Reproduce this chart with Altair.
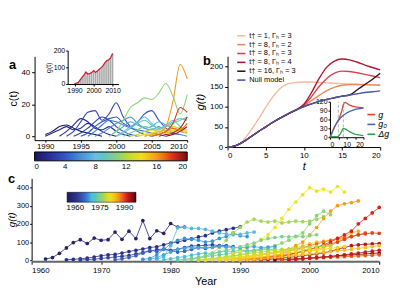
import altair as alt
import pandas as pd

W, H = 390, 284
FONT = "Liberation Sans"

# ---------------- Panel a : c(t) curves ----------------
a_idx = [0, 1, 2, 3, 3, 4, 5, 6, 7, 8, 11, 9, 10, 12, 13, 14, 16, 15, 18, 19, 20, 17]
a_start = [1990, 1990, 1992, 1993, 1994, 1995, 1996, 1997, 1999, 2000, 1999, 2000,
           2001, 2002, 2003, 2003, 2004, 2004, 2005, 2006, 2007, 2005]
a_vals = [
    [1, 3, 6, 7, 5, 3, 2, 1, 0],
    [0, 2, 4, 6, 4, 5, 8, 6, 3, 1, 0],
    [0, 3, 7, 11, 9, 5, 4, 6, 3, 1, 0],
    [0, 3, 9, 15, 16, 10, 14, 21, 12, 6, 3, 1, 0],
    [0, 2, 5, 9, 12, 10, 6, 3, 1, 0],
    [0, 2, 6, 9, 11, 12, 8, 6, 9, 14, 16, 10, 5, 2, 1],
    [0, 3, 7, 10, 9, 7, 5, 4, 3, 2, 1, 0],
    [0, 2, 5, 8, 10, 12, 8, 5, 4, 6, 3, 2, 1, 0],
    [0, 3, 6, 9, 7, 5, 6, 9, 7, 5, 3, 2],
    [0, 3, 6, 9, 12, 8, 5, 7, 10, 6, 4],
    [0, 3, 10, 18, 21, 24, 23, 27, 33, 25, 14, 26],
    [0, 2, 5, 8, 10, 7, 5, 6, 9, 11, 10],
    [0, 2, 4, 6, 5, 4, 6, 8, 10, 12],
    [0, 1, 3, 4, 3, 4, 6, 5, 4],
    [0, 1, 2, 3, 2, 3, 4, 3],
    [0, 1, 2, 3, 4, 3, 5, 4],
    [0, 1, 2, 6, 22, 45, 36],
    [0, 1, 3, 2, 4, 3, 2],
    [0, 1, 3, 8, 18, 15],
    [0, 1, 2, 5, 12],
    [0, 1, 3, 6],
    [0, 1, 3, 5, 4, 8],
]
a_ticks = [0, 4, 8, 12, 16, 20]
a_cstops = [0, 2, 4, 6, 8, 10, 12, 14, 16, 18, 20]
a_colors = ["#1c1660", "#28309a", "#3456c4", "#4a8ed8", "#68bfe2", "#7cc8a0",
            "#b8d83c", "#f2dc1e", "#f49a1e", "#e0321e", "#7a0c10"]

inset_a_years = list(range(1990, 2011))
inset_a_g = [2, 5, 10, 25, 40, 55, 72, 60, 62, 68, 80, 70, 78, 88, 98, 110, 128, 140, 145, 158, 182]

# ---------------- Panel b : model curves ----------------
b_t = list(range(21))
b_null = [0, 3, 12, 25, 38, 50, 62, 73, 83, 92, 100, 107, 113, 118, 122, 126, 129, 132, 135, 137, 139]
b_t1 = [0, 3, 15, 40, 68, 98, 126, 147, 157, 160, 161, 161, 160, 159, 158, 157, 156, 155, 154, 154, 153]
b_g2 = b_null[:10] + [102, 115, 128, 140, 148, 153, 155, 155, 155, 154, 153]
b_g3 = b_null[:10] + [104, 125, 150, 170, 183, 188, 187, 184, 180, 176, 172]
b_g4 = b_null[:10] + [106, 135, 170, 198, 213, 218, 216, 210, 203, 197, 191]
b_t16 = b_null[:17] + [142, 155, 168, 183]
b_labels = ["t† = 1, Γₕ = 3", "t† = 8, Γₕ = 2", "t† = 8, Γₕ = 3",
            "t† = 8, Γₕ = 4", "t† = 16, Γₕ = 3", "Null model"]
b_colors = ["#f6b99e", "#ee8660", "#d8434f", "#b0162e", "#3a1012", "#4a56a6"]

inset_b_g = [0, 12, 26, 38, 48, 57, 72, 88, 110, 118, 115, 111, 108, 106, 104, 103, 102, 101, 101, 100, 100]
inset_b_g0 = [0, 12, 26, 38, 48, 56, 63, 69, 74, 78, 82, 85, 88, 90, 92, 94, 95, 96, 97, 98, 99]
inset_b_dg = [2, 2, 2, 2, 2, 3, 10, 20, 30, 28, 25, 21, 18, 15, 12, 10, 9, 8, 7, 6, 5]
inset_b_marks = [5, 8]
inset_b_labels = ["g", "g₀", "Δg"]
inset_b_colors = ["#e0452e", "#4a62b0", "#2fa24a"]

# ---------------- Panel c : g(t) per cohort ----------------
c_cohort = [1957, 1960, 1962, 1965, 1968, 1970, 1971, 1973, 1977, 1976,
            1981, 1983, 1986, 1985, 1988, 1991, 1990, 1993, 1996, 1979,
            1978, 1980, 1982, 1984, 1989, 1969, 1975, 1992]
c_start = [1962, 1965, 1967, 1972, 1976, 1978, 1979, 1981, 1983, 1985,
           1986, 1987, 1988, 1989, 1990, 1991, 1992, 1993, 1995, 1984,
           1984, 1985, 1988, 1990, 1996, 1977, 1982, 1997]
c_vals = [
    [7, 15, 38, 68, 97, 113, 92, 122, 110, 113, 155, 115, 160, 119, 218, 119, 162, 148, 202, 182, 182],
    [3, 5, 8, 12, 18, 25, 30, 32, 40, 48, 55, 62, 70, 74, 85, 95, 100, 110, 118, 128, 135, 150, 160, 168, 176, 184],
    [2, 4, 6, 10, 14, 18, 22, 26, 35, 42, 50, 58, 62, 55, 60, 70, 78, 80, 82, 85, 80, 78],
    [3, 8, 15, 25, 40, 55, 48, 60, 52, 45, 50, 60, 70, 65, 72, 78, 80, 75],
    [5, 10, 30, 60, 90, 110, 120, 115, 110, 100, 105, 120, 130, 150, 135, 130],
    [5, 20, 80, 178, 180, 175, 175, 170, 160, 150, 145, 140, 142, 150, 155],
    [3, 8, 15, 20, 28, 35, 40, 38, 45, 50, 48, 55, 52, 50, 55],
    [2, 5, 10, 15, 20, 25, 30, 35, 40, 45, 50, 55, 60, 58, 62],
    [5, 10, 20, 40, 70, 110, 150, 180, 210, 225, 215, 210, 215, 205, 210, 215, 212, 215, 225, 240],
    [3, 6, 10, 15, 22, 30, 40, 50, 60, 70, 80, 95, 110, 130, 150, 200, 245, 270, 250],
    [5, 10, 20, 35, 50, 70, 90, 115, 140, 180, 230, 280, 320, 360, 398, 380, 391, 375, 405, 375],
    [2, 5, 8, 12, 18, 25, 30, 38, 45, 55, 60, 70, 80, 90, 100, 105, 110, 115, 120],
    [3, 6, 10, 15, 20, 28, 35, 42, 50, 60, 80, 100, 140, 180, 230, 270, 300, 310, 317, 326],
    [2, 4, 8, 12, 16, 20, 25, 30, 35, 40, 45, 50, 60, 70, 80, 100, 130, 150, 160],
    [2, 5, 10, 15, 20, 25, 35, 50, 60, 70, 80, 90, 100, 110, 120, 125, 130, 140, 150],
    [3, 6, 10, 15, 20, 25, 30, 40, 50, 60, 70, 85, 100, 120, 140, 160, 200, 230, 260, 290],
    [2, 5, 10, 15, 20, 30, 40, 50, 60, 70, 80, 90, 100, 115, 130, 140, 145, 150, 148],
    [2, 4, 8, 12, 16, 20, 25, 30, 35, 40, 50, 60, 70, 80, 85, 88, 90, 92],
    [2, 4, 6, 8, 10, 12, 15, 18, 20, 25, 28, 30, 32, 35, 38, 40],
    [2, 4, 6, 8, 10, 15, 20, 25, 30, 35, 40, 45, 50, 55, 60, 58, 62],
    [2, 5, 10, 15, 20, 25, 30, 35, 40, 45, 50, 55, 60, 62, 65, 70, 72, 75, 78, 80],
    [2, 4, 6, 10, 14, 18, 22, 26, 30, 35, 40, 45, 50, 55, 58, 60, 62],
    [2, 4, 8, 12, 16, 20, 25, 30, 35, 40, 45, 48, 52, 55, 60, 65, 70, 75],
    [2, 4, 6, 8, 12, 16, 20, 24, 28, 32, 36, 40, 44, 48, 52, 56, 60, 65, 70, 75, 80],
    [2, 4, 6, 8, 10, 12, 14, 16, 18, 20, 22, 24, 26, 28, 30],
    [5, 15, 30, 45, 60, 65, 70, 68, 72, 70, 75, 72, 70, 68, 72, 75, 70, 72, 75],
    [3, 8, 15, 25, 35, 45, 55, 65, 75, 85, 95, 110, 120, 125, 130, 128, 132, 130, 135, 140],
    [2, 5, 8, 12, 15, 18, 22, 25, 30, 35, 40, 45, 50, 55],
]
c_ticks = [1960, 1975, 1990]
c_cstops = [1955, 1961, 1966, 1970, 1974, 1978, 1981, 1985, 1988, 1991, 1994, 1997]
c_colors = ["#1e1a5e", "#2a3590", "#3a6cc8", "#5ab8e0", "#7ccc9c", "#b8d83a",
            "#f2e21c", "#f5b21e", "#ef6f1e", "#d92020", "#a01018", "#4a0808"]

# ---------------- build tables ----------------
rows = []
for k, (idx, st, vals) in enumerate(zip(a_idx, a_start, a_vals)):
    for j, v in enumerate(vals):
        rows.append({"curve": k, "idx": idx, "year": st + j, "c": v})
df_a = pd.DataFrame(rows)
df_ai = pd.DataFrame({"year": inset_a_years, "g": inset_a_g})

rows = []
for lab, ser in zip(b_labels, [b_t1, b_g2, b_g3, b_g4, b_t16, b_null]):
    for t, v in zip(b_t, ser):
        rows.append({"model": lab, "t": t, "g": v})
df_b = pd.DataFrame(rows)
rows = []
for lab, ser in zip(inset_b_labels, [inset_b_g, inset_b_g0, inset_b_dg]):
    for t, v in zip(b_t, ser):
        rows.append({"series": lab, "t": t, "g": v})
df_bi = pd.DataFrame(rows)
df_bm = pd.DataFrame({"t": inset_b_marks, "lo": [0, 0], "hi": [120, 120]})

rows = []
for k, (co, st, vals) in enumerate(zip(c_cohort, c_start, c_vals)):
    for j, v in enumerate(vals):
        rows.append({"series": k, "cohort": co, "year": st + j, "g": v})
df_c = pd.DataFrame(rows)


def ax(orient, offset, values=None, title=None, size=8, fmt=None, **kw):
    d = dict(orient=orient, offset=offset, grid=False, labelFontSize=size, tickSize=3,
             domainColor="black", tickColor="black", labelColor="black",
             labelFont=FONT, titleFont=FONT, titleFontWeight="normal", titleColor="black")
    if values is not None:
        d["values"] = values
    if fmt:
        d["format"] = fmt
    d["title"] = title
    d.update(kw)
    return alt.Axis(**d)


# ---------------- Panel a ----------------
xa = alt.X("year:Q", scale=alt.Scale(domain=[1988.5, 2010], range=[27, 182], nice=False, zero=False),
           axis=ax("bottom", -(H - 132), [1990, 1995, 2000, 2005, 2010], None, fmt="d",
                   tickSize=2, labelPadding=0))
ya = alt.Y("c:Q", scale=alt.Scale(domain=[-2.5, 50], range=[132, 47], nice=False, zero=False),
           axis=ax("left", -27, [0, 20, 40], "c(t)", titleFontSize=11, titlePadding=2))
panel_a = alt.Chart(df_a).mark_line(interpolate="monotone", strokeWidth=1.1).encode(
    x=xa, y=ya,
    color=alt.Color("idx:Q", scale=alt.Scale(domain=a_cstops, range=a_colors),
                    legend=alt.Legend(orient="none", legendX=27, legendY=144, direction="horizontal",
                                      type="gradient",
                                      gradientLength=155, gradientThickness=9, title=None,
                                      values=a_ticks, labelFontSize=8, labelFont=FONT,
                                      gradientStrokeColor="black", gradientStrokeWidth=1, padding=0)),
    detail="curve:N",
)

xai = alt.X("year:Q", scale=alt.Scale(domain=[1989, 2010.5], range=[60.6, 112.2], nice=False, zero=False),
            axis=ax("bottom", -(H - 75), [1990, 2000, 2010], None, size=7, fmt="d", tickSize=2, labelPadding=1))
yai = alt.Y("g:Q", scale=alt.Scale(domain=[0, 200], range=[75, 41], nice=False, zero=False),
            axis=ax("left", -60.6, [0, 100, 200], "g(t)", size=7, tickSize=2, titleFontSize=7,
                    titlePadding=2, labelPadding=1))
inset_a = alt.layer(
    alt.Chart(df_ai).mark_bar(color="#a8a8a8", size=1.5).encode(x=xai, y=yai),
    alt.Chart(df_ai).mark_line(color="#d0203a", strokeWidth=1.3).encode(x=xai, y=yai),
)

# ---------------- Panel b ----------------
xb = alt.X("t:Q", scale=alt.Scale(domain=[0, 20], range=[223, 378], nice=False, zero=False),
           axis=ax("bottom", -(H - 139), [0, 5, 10, 15, 20], "t", titleFontSize=11,
                   titleFontStyle="italic", titlePadding=1))
yb = alt.Y("g:Q", scale=alt.Scale(domain=[0, 225], range=[139, 46.75], nice=False, zero=False),
           axis=ax("left", -223, [0, 50, 100, 150, 200], "g(t)", titleFontSize=11,
                   titleFontStyle="italic", titlePadding=4))
panel_b = alt.Chart(df_b).mark_line(interpolate="monotone", strokeWidth=1.4).encode(
    x=xb, y=yb,
    color=alt.Color("model:N", sort=b_labels, scale=alt.Scale(domain=b_labels, range=b_colors),
                    legend=alt.Legend(orient="none", legendX=232, legendY=21, title=None,
                                      symbolType="stroke", symbolSize=70, symbolStrokeWidth=1.6,
                                      labelFontSize=7.5, labelFont=FONT, rowPadding=0, padding=0,
                                      labelOffset=3)),
)

xbi = alt.X("t:Q", scale=alt.Scale(domain=[0, 20], range=[327, 361], nice=False, zero=False),
            axis=ax("bottom", -(H - 129), [0, 5, 10, 15, 20], None, size=7, tickSize=2, labelPadding=1))
ybi_scale = alt.Scale(domain=[0, 120], range=[129, 93], nice=False, zero=False)
ybi_axis = ax("left", -327, [0, 30, 60, 90, 120], None, size=7, tickSize=2, labelPadding=1)
inset_b = alt.layer(
    alt.Chart(df_bm).mark_rule(color="#b0b0b0", strokeDash=[3, 2], strokeWidth=1).encode(
        x=xbi, y=alt.Y("lo:Q", scale=ybi_scale, axis=ybi_axis), y2="hi:Q"),
    alt.Chart(df_bi).mark_line(interpolate="monotone", strokeWidth=1.3).encode(
        x=xbi, y=alt.Y("g:Q", scale=ybi_scale, axis=ybi_axis),
        color=alt.Color("series:N", sort=inset_b_labels,
                        scale=alt.Scale(domain=inset_b_labels, range=inset_b_colors),
                        legend=alt.Legend(orient="none", legendX=364, legendY=101, title=None,
                                          symbolType="stroke", symbolSize=64, symbolStrokeWidth=1.6,
                                          labelFontSize=9, labelFont=FONT, labelFontStyle="italic",
                                          rowPadding=0, padding=0, labelOffset=2)),
    ),
)

# ---------------- Panel c ----------------
xc = alt.X("year:Q", scale=alt.Scale(domain=[1960, 2010], range=[24, 377], nice=False, zero=False),
           axis=ax("bottom", -(H - 255), [1960, 1970, 1980, 1990, 2000, 2010], "Year", fmt="d",
                   titleFontSize=11, titlePadding=2, domainColor="#666666", domainWidth=2))
yc = alt.Y("g:Q", scale=alt.Scale(domain=[0, 450], range=[254, 170.75], nice=False, zero=False),
           axis=ax("left", -24, [0, 100, 200, 300, 400], "g(t)", size=7.5, titleFontSize=10,
                   titleFontStyle="italic", titlePadding=0, tickSize=2, labelPadding=1))
ccol_line = alt.Color("cohort:Q", scale=alt.Scale(domain=c_cstops, range=c_colors),
                      legend=alt.Legend(orient="none", legendX=60, legendY=185, direction="horizontal",
                                        type="gradient", format="d",
                                        gradientLength=70, gradientThickness=10, title=None,
                                        values=c_ticks, labelFontSize=8, labelFont=FONT, padding=0,
                                        gradientStrokeColor="black", gradientStrokeWidth=0.5))
ccol_pt = alt.Color("cohort:Q", scale=alt.Scale(domain=c_cstops, range=c_colors), legend=None)
panel_c = alt.layer(
    alt.Chart(df_c).mark_line(strokeWidth=0.8).encode(x=xc, y=yc, color=ccol_line, detail="series:N"),
    alt.Chart(df_c).mark_circle(size=14, opacity=1).encode(x=xc, y=yc, color=ccol_pt, detail="series:N"),
).resolve_scale(color="independent")

# ---------------- panel letters ----------------
one = pd.DataFrame({"k": [0]})
letters = [
    alt.Chart(one).mark_text(text=t, fontSize=13, fontWeight="bold", font=FONT, align="left").encode(
        x=alt.value(px), y=alt.value(py))
    for t, px, py in [("a", 1, 56), ("b", 198, 52), ("c", 0, 172)]
]

chart = alt.layer(panel_a, inset_a, panel_b, inset_b, panel_c, *letters).resolve_scale(
    x="independent", y="independent", color="independent"
).properties(
    width=W, height=H, padding=0, autosize=alt.AutoSizeParams(type="none")
).configure_view(stroke=None)

chart.save("out.html", embed_options={"renderer": "svg", "actions": False})
